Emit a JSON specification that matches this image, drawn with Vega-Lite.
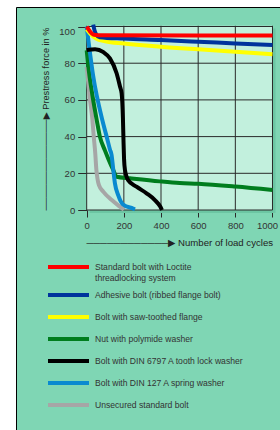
{
  "$schema": "https://vega.github.io/schema/vega-lite/v6.json",
  "width": 264,
  "height": 423,
  "autosize": {"type": "none"},
  "padding": {"left": 16, "top": 7, "right": 0, "bottom": 0},
  "background": "#ffffff",
  "config": {
    "view": {"fill": "#7fd6b4", "stroke": "#000000", "strokeWidth": 1},
    "font": "Liberation Sans, Arial, DejaVu Sans, sans-serif"
  },
  "datasets": {
    "curves": [
      {"s": "Unsecured standard bolt", "x": 0, "y": 78},
      {"s": "Unsecured standard bolt", "x": 18, "y": 60},
      {"s": "Unsecured standard bolt", "x": 30, "y": 50},
      {"s": "Unsecured standard bolt", "x": 38, "y": 40},
      {"s": "Unsecured standard bolt", "x": 46, "y": 31},
      {"s": "Unsecured standard bolt", "x": 52, "y": 22},
      {"s": "Unsecured standard bolt", "x": 58, "y": 17},
      {"s": "Unsecured standard bolt", "x": 66, "y": 13.5},
      {"s": "Unsecured standard bolt", "x": 89, "y": 10},
      {"s": "Unsecured standard bolt", "x": 135, "y": 5.4},
      {"s": "Unsecured standard bolt", "x": 179, "y": 1.8},
      {"s": "Unsecured standard bolt", "x": 197, "y": 0.4},
      {"s": "Unsecured standard bolt", "x": 200, "y": 0},
      {"s": "Nut with polymide washer", "x": 0, "y": 87},
      {"s": "Nut with polymide washer", "x": 9, "y": 78},
      {"s": "Nut with polymide washer", "x": 30, "y": 63},
      {"s": "Nut with polymide washer", "x": 54, "y": 49},
      {"s": "Nut with polymide washer", "x": 71, "y": 40},
      {"s": "Nut with polymide washer", "x": 98, "y": 32.5},
      {"s": "Nut with polymide washer", "x": 116, "y": 28},
      {"s": "Nut with polymide washer", "x": 143, "y": 21.8},
      {"s": "Nut with polymide washer", "x": 161, "y": 18.1},
      {"s": "Nut with polymide washer", "x": 232, "y": 17.3},
      {"s": "Nut with polymide washer", "x": 393, "y": 15.6},
      {"s": "Nut with polymide washer", "x": 501, "y": 14.7},
      {"s": "Nut with polymide washer", "x": 600, "y": 14.3},
      {"s": "Nut with polymide washer", "x": 800, "y": 12.8},
      {"s": "Nut with polymide washer", "x": 1000, "y": 10.9},
      {"s": "Bolt with DIN 127 A spring washer", "x": 0, "y": 100},
      {"s": "Bolt with DIN 127 A spring washer", "x": 35, "y": 73},
      {"s": "Bolt with DIN 127 A spring washer", "x": 84, "y": 49},
      {"s": "Bolt with DIN 127 A spring washer", "x": 110, "y": 39},
      {"s": "Bolt with DIN 127 A spring washer", "x": 125, "y": 33},
      {"s": "Bolt with DIN 127 A spring washer", "x": 134, "y": 30},
      {"s": "Bolt with DIN 127 A spring washer", "x": 143, "y": 22},
      {"s": "Bolt with DIN 127 A spring washer", "x": 152, "y": 14.5},
      {"s": "Bolt with DIN 127 A spring washer", "x": 170, "y": 8},
      {"s": "Bolt with DIN 127 A spring washer", "x": 196, "y": 3},
      {"s": "Bolt with DIN 127 A spring washer", "x": 250, "y": 0.8},
      {"s": "Bolt with DIN 127 A spring washer", "x": 260, "y": 0.4},
      {"s": "Bolt with saw-toothed flange", "x": 0, "y": 98.5},
      {"s": "Bolt with saw-toothed flange", "x": 20, "y": 96},
      {"s": "Bolt with saw-toothed flange", "x": 50, "y": 93.5},
      {"s": "Bolt with saw-toothed flange", "x": 100, "y": 92},
      {"s": "Bolt with saw-toothed flange", "x": 200, "y": 90.8},
      {"s": "Bolt with saw-toothed flange", "x": 400, "y": 89},
      {"s": "Bolt with saw-toothed flange", "x": 600, "y": 87.6},
      {"s": "Bolt with saw-toothed flange", "x": 800, "y": 86.3},
      {"s": "Bolt with saw-toothed flange", "x": 1000, "y": 84.9},
      {"s": "Adhesive bolt (ribbed flange bolt)", "x": 35, "y": 101},
      {"s": "Adhesive bolt (ribbed flange bolt)", "x": 42, "y": 98},
      {"s": "Adhesive bolt (ribbed flange bolt)", "x": 52, "y": 95.5},
      {"s": "Adhesive bolt (ribbed flange bolt)", "x": 70, "y": 94.2},
      {"s": "Adhesive bolt (ribbed flange bolt)", "x": 200, "y": 93.4},
      {"s": "Adhesive bolt (ribbed flange bolt)", "x": 400, "y": 92.6},
      {"s": "Adhesive bolt (ribbed flange bolt)", "x": 600, "y": 91.7},
      {"s": "Adhesive bolt (ribbed flange bolt)", "x": 800, "y": 90.8},
      {"s": "Adhesive bolt (ribbed flange bolt)", "x": 1000, "y": 89.9},
      {"s": "Standard bolt with Loctite threadlocking system", "x": 0, "y": 100},
      {"s": "Standard bolt with Loctite threadlocking system", "x": 10, "y": 98.5},
      {"s": "Standard bolt with Loctite threadlocking system", "x": 20, "y": 97},
      {"s": "Standard bolt with Loctite threadlocking system", "x": 35, "y": 95.6},
      {"s": "Standard bolt with Loctite threadlocking system", "x": 60, "y": 95.3},
      {"s": "Standard bolt with Loctite threadlocking system", "x": 1000, "y": 95.1},
      {"s": "Bolt with DIN 6797 A tooth lock washer", "x": 0, "y": 87.2},
      {"s": "Bolt with DIN 6797 A tooth lock washer", "x": 45, "y": 87.6},
      {"s": "Bolt with DIN 6797 A tooth lock washer", "x": 90, "y": 86},
      {"s": "Bolt with DIN 6797 A tooth lock washer", "x": 125, "y": 82.6},
      {"s": "Bolt with DIN 6797 A tooth lock washer", "x": 161, "y": 74.5},
      {"s": "Bolt with DIN 6797 A tooth lock washer", "x": 180, "y": 67},
      {"s": "Bolt with DIN 6797 A tooth lock washer", "x": 188, "y": 63.6},
      {"s": "Bolt with DIN 6797 A tooth lock washer", "x": 195, "y": 50},
      {"s": "Bolt with DIN 6797 A tooth lock washer", "x": 198, "y": 38},
      {"s": "Bolt with DIN 6797 A tooth lock washer", "x": 201, "y": 28},
      {"s": "Bolt with DIN 6797 A tooth lock washer", "x": 206, "y": 21.8},
      {"s": "Bolt with DIN 6797 A tooth lock washer", "x": 223, "y": 16.3},
      {"s": "Bolt with DIN 6797 A tooth lock washer", "x": 268, "y": 12.7},
      {"s": "Bolt with DIN 6797 A tooth lock washer", "x": 322, "y": 9.1},
      {"s": "Bolt with DIN 6797 A tooth lock washer", "x": 367, "y": 5.4},
      {"s": "Bolt with DIN 6797 A tooth lock washer", "x": 395, "y": 2},
      {"s": "Bolt with DIN 6797 A tooth lock washer", "x": 405, "y": 0}
    ],
    "vgrid": [{"g": 0}, {"g": 200}, {"g": 400}, {"g": 600}, {"g": 800}, {"g": 1000}],
    "hgrid": [{"h": 0}, {"h": 20}, {"h": 40}, {"h": 60}, {"h": 80}, {"h": 100}]
  },
  "layer": [
    {
      "data": {"values": [{}]},
      "mark": {"type": "rect", "fill": "#6cc6a3"},
      "encoding": {
        "x": {"datum": 16, "type": "quantitative"},
        "x2": {"datum": 1016},
        "y": {"datum": -1.6, "type": "quantitative"},
        "y2": {"datum": 98.9}
      }
    },
    {
      "data": {"values": [{}]},
      "mark": {"type": "rect", "fill": "#c2f0dd"},
      "encoding": {
        "x": {"datum": 0, "type": "quantitative"},
        "x2": {"datum": 1000},
        "y": {"datum": 0, "type": "quantitative"},
        "y2": {"datum": 100.4}
      }
    },
    {
      "data": {"name": "vgrid"},
      "mark": {"type": "rule", "color": "#2a2a2a", "strokeWidth": 1},
      "encoding": {
        "x": {"field": "g", "type": "quantitative"},
        "y": {"datum": 0, "type": "quantitative"},
        "y2": {"datum": 100.4}
      }
    },
    {
      "data": {"name": "hgrid"},
      "mark": {"type": "rule", "color": "#2a2a2a", "strokeWidth": 1},
      "encoding": {
        "y": {"field": "h", "type": "quantitative"},
        "x": {"datum": 0, "type": "quantitative"},
        "x2": {"datum": 1000}
      }
    },
    {
      "data": {"name": "curves"},
      "mark": {"type": "line", "strokeWidth": 4, "interpolate": "monotone", "strokeJoin": "round"},
      "encoding": {
        "x": {
          "field": "x", "type": "quantitative",
          "scale": {"domain": [-380.5, 1040.4], "nice": false, "zero": false},
          "axis": {
            "orient": "bottom", "offset": -220,
            "values": [0, 200, 400, 600, 800, 1000], "format": "d",
            "domain": false, "grid": false,
            "tickSize": 7, "tickColor": "#2a2a2a",
            "labelColor": "#333333", "labelFontSize": 9.5, "labelPadding": 3,
            "labelFlush": false, "labelOverlap": false,
            "labelOffset": {"condition": {"test": "datum.value == 1000", "value": -5.5}, "value": 0},
            "title": "────────────▶ Number of load cycles",
            "titleX": 70, "titleY": 32, "titleAlign": "left", "titleBaseline": "middle",
            "titleFontSize": 9.6, "titleFontWeight": "normal", "titleColor": "#222222"
          }
        },
        "y": {
          "field": "y", "type": "quantitative",
          "scale": {"domain": [-119.89, 110.63], "nice": false, "zero": false},
          "axis": {
            "orient": "left", "offset": -70.7,
            "values": [0, 20, 40, 60, 80, 100],
            "domain": false, "grid": false,
            "tickSize": 9, "tickColor": "#2a2a2a",
            "labelColor": "#333333", "labelFontSize": 9.5, "labelPadding": 3,
            "labelFlush": false, "labelOverlap": false,
            "labelOffset": {"condition": {"test": "datum.value == 100", "value": 4.5}, "value": 0},
            "title": "──────────────▶ Prestress force in %",
            "titleX": -40.7, "titleY": 203, "titleAngle": 270, "titleAlign": "left", "titleBaseline": "middle",
            "titleFontSize": 9.2, "titleFontWeight": "normal", "titleColor": "#222222"
          }
        },
        "color": {
          "field": "s", "type": "nominal",
          "scale": {
            "domain": [
              "Standard bolt with Loctite threadlocking system",
              "Adhesive bolt (ribbed flange bolt)",
              "Bolt with saw-toothed flange",
              "Nut with polymide washer",
              "Bolt with DIN 6797 A tooth lock washer",
              "Bolt with DIN 127 A spring washer",
              "Unsecured standard bolt"
            ],
            "range": ["#ff0000", "#00339c", "#ffff00", "#007d1e", "#000000", "#0a8ad0", "#a6a6a6"]
          },
          "legend": {
            "orient": "none", "legendX": 30, "legendY": 250,
            "title": null, "padding": 0,
            "symbolType": "stroke", "symbolSize": 1681, "symbolStrokeWidth": 4,
            "clipHeight": 20, "rowPadding": 2,
            "labelFontSize": 8.6, "labelColor": "#333333", "labelOffset": 4, "labelLimit": 300,
            "labelExpr": "datum.label == 'Standard bolt with Loctite threadlocking system' ? ['Standard bolt with Loctite', 'threadlocking system'] : datum.label",
            "encode": {
              "labels": {"lineHeight": {"value": 9.6}}
            }
          }
        }
      }
    }
  ]
}
